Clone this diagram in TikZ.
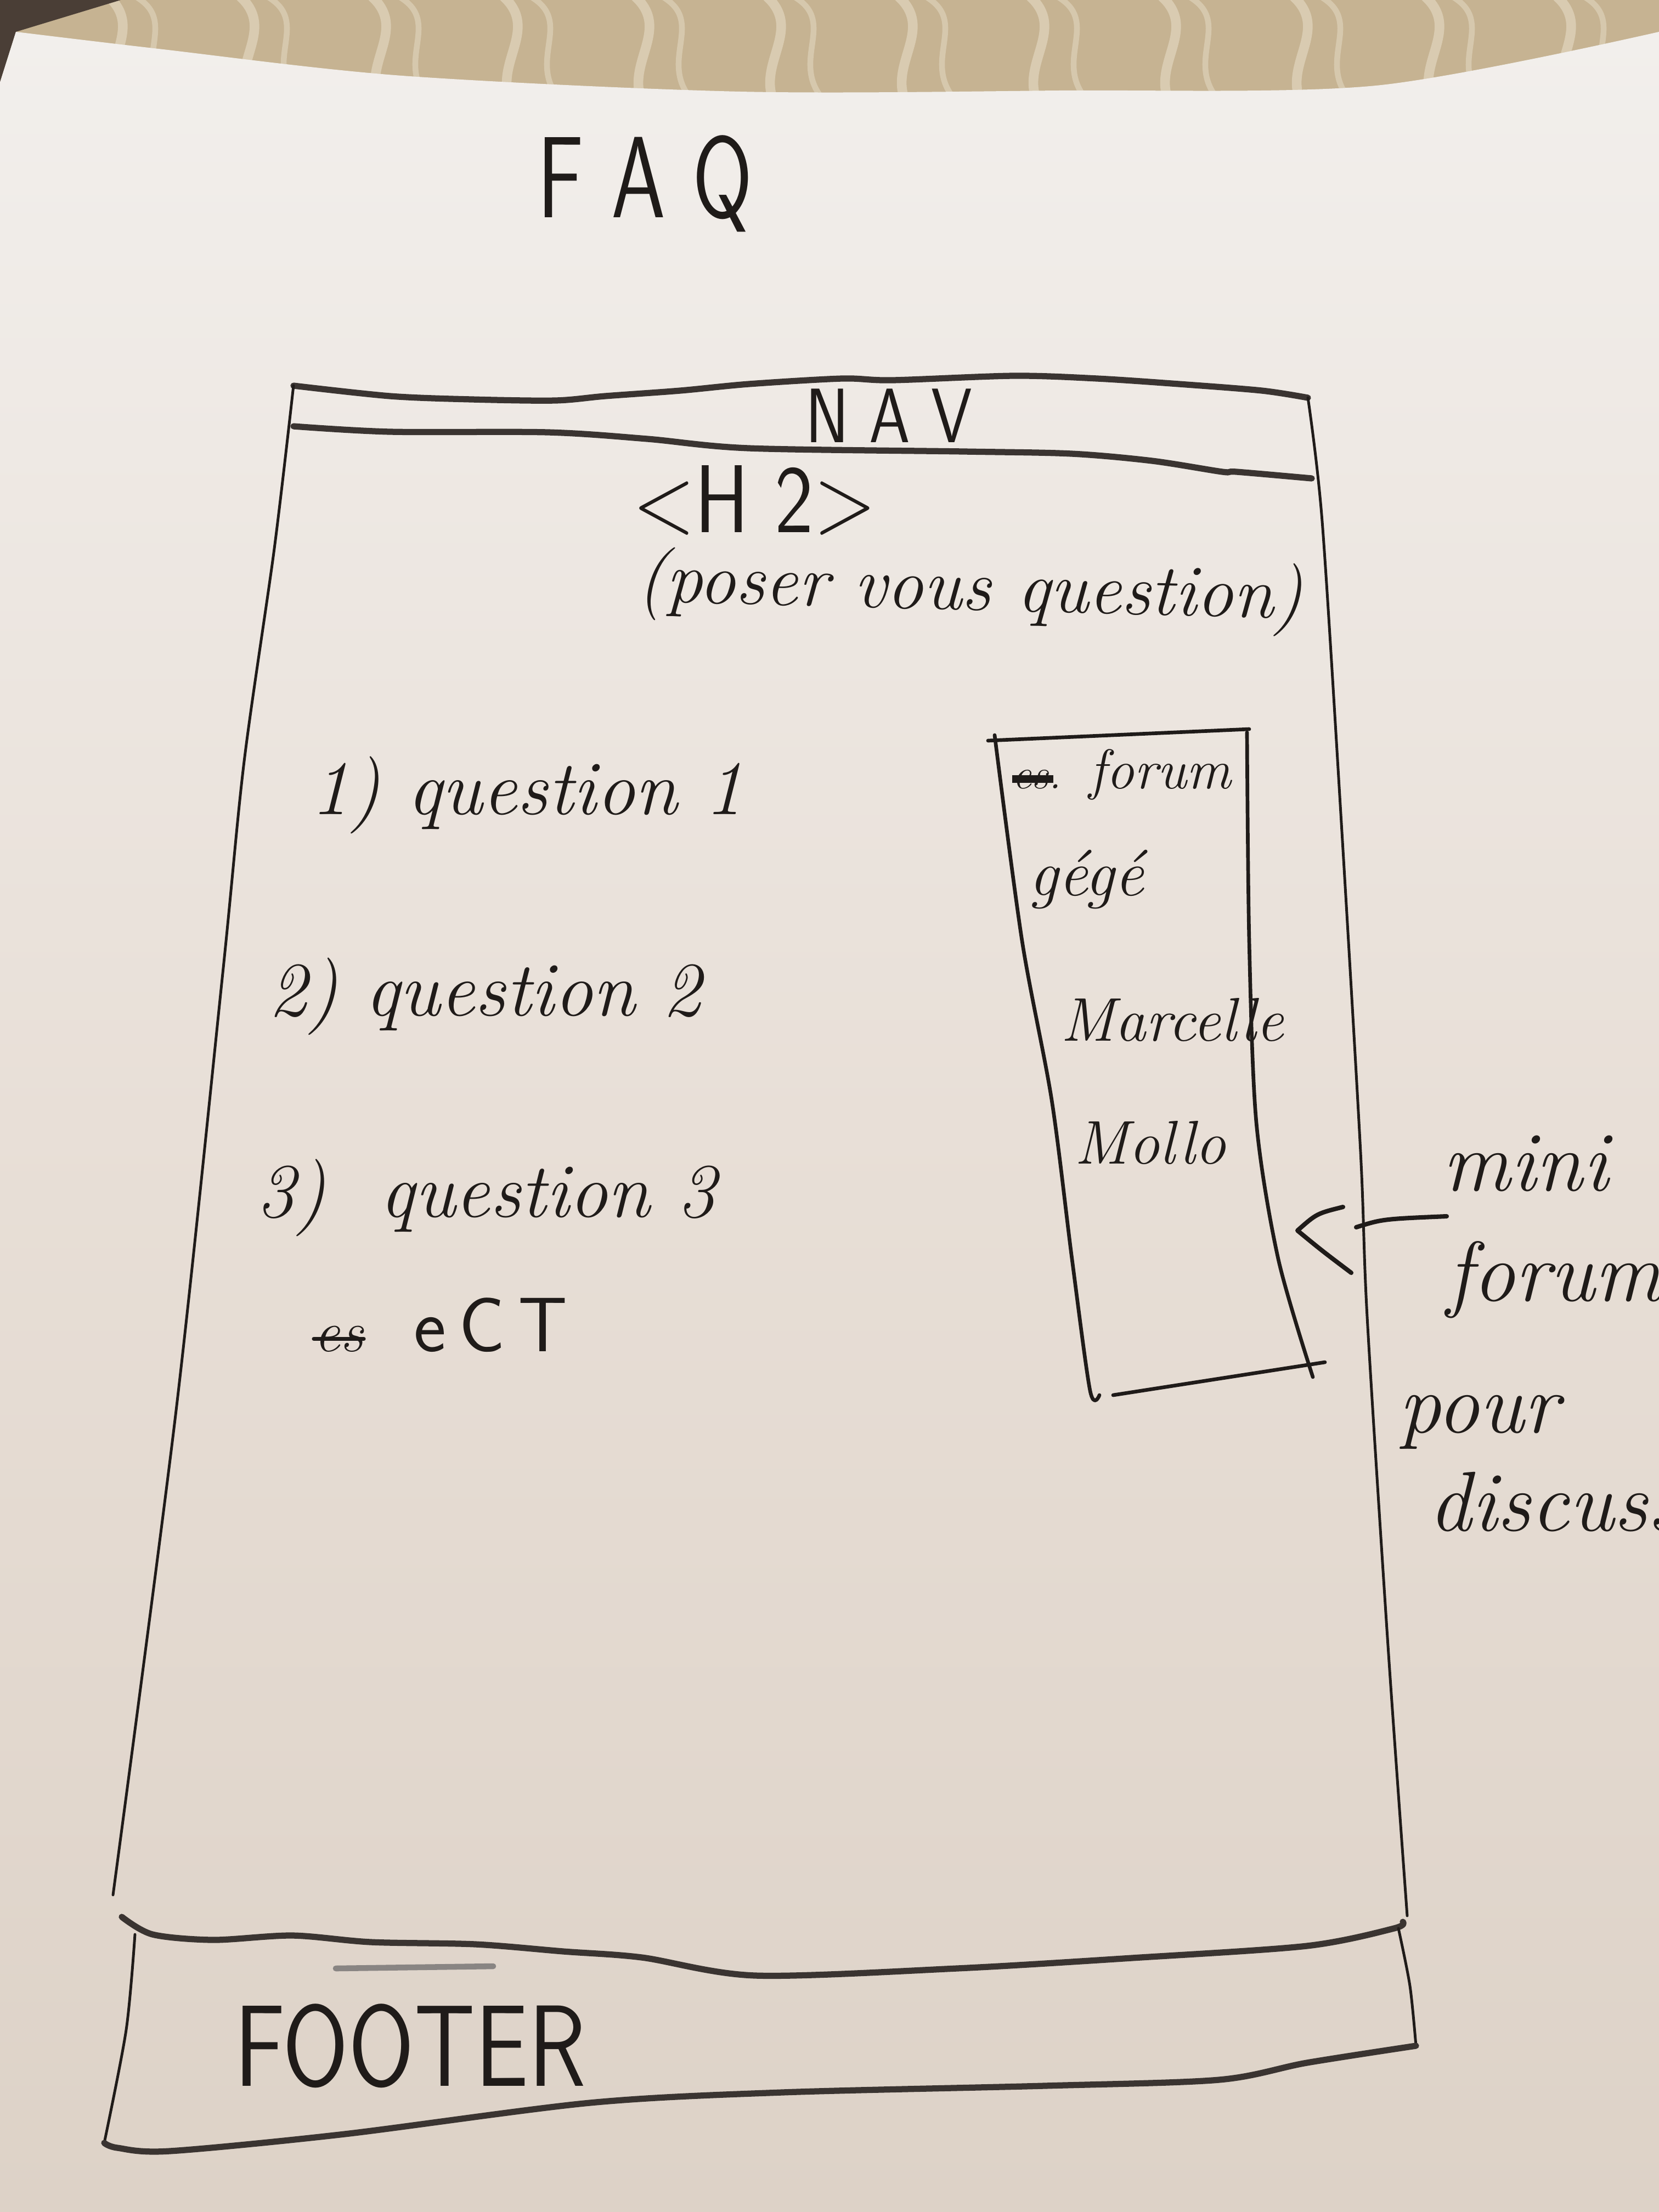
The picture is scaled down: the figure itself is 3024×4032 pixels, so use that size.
\documentclass[tikz,border=0pt]{standalone}
\usepackage{fontspec}
\definecolor{ink}{HTML}{1F1B19}
\definecolor{inksoft}{HTML}{3A3431}
\definecolor{paperhi}{HTML}{F2EFEC}
\definecolor{papermid}{HTML}{E8DFD7}
\definecolor{paperlo}{HTML}{DDD2C7}
\definecolor{lace}{HTML}{C6B392}
\definecolor{lacehi}{HTML}{E2D6BF}
\definecolor{corner}{HTML}{4A3E36}
\newcommand{\txtsize}[1]{\fontsize{#1}{#1}\selectfont}
\tikzset{
  thinpen/.style={draw=ink, line width=1.4pt, line cap=round, line join=round},
  thickpen/.style={draw=inksoft, line width=3.2pt, line cap=round, line join=round},
  boxpen/.style={draw=ink, line width=1.9pt, line cap=round, line join=round},
  caps/.style={text=ink, font=\sffamily, inner sep=0pt},
  hand/.style={text=ink, inner sep=0pt, anchor=base west},
}
\begin{document}
\begin{tikzpicture}[x=0.01cm, y=-0.01cm]
\useasboundingbox (0,0) rectangle (3024,4032);
\clip (0,0) rectangle (3024,4032);

% tablecloth behind the sheet
\fill[lace] (0,0) rectangle (3024,260);
\foreach \x in {180,420,660,900,1140,1380,1620,1860,2100,2340,2580,2820}{
  \draw[lacehi, line width=5pt, opacity=0.7] (\x,-20) .. controls (\x+120,60) and (\x-60,140) .. (\x+80,240);
  \draw[lacehi, line width=3pt, opacity=0.6] (\x+60,-10) .. controls (\x+160,40) and (\x+40,120) .. (\x+140,200);
}
\fill[corner] (0,0) -- (220,0) -- (29,58) -- (0,150) -- cycle;

% the sheet of paper
\shade[top color=paperhi, bottom color=paperlo, middle color=papermid]
  plot[smooth] coordinates {(29,58) (289,89) (733,138) (1350,167) (1929,165) (2508,156) (3024,58)}
  -- (3024,4032) -- (0,4032) -- (0,150) -- cycle;

% page title
\node[caps, font=\sffamily\txtsize{60pt}] (faq) at (1176,335) {\scalebox{0.75}[1]{F A Q}};

% navigation bar
\draw[thickpen] plot[smooth] coordinates {(535,703) (711,722) (860,728) (1012,730) (1103,722) (1240,712) (1365,700) (1535,690) (1626,693) (1848,685) (2000,690) (2149,700) (2300,712) (2384,725)};
\draw[thickpen] plot[smooth] coordinates {(535,777) (711,787) (999,788) (1180,800) (1365,817) (1757,823) (1953,827) (2100,840) (2228,860) (2254,860) (2391,872)};
\node[caps, font=\sffamily\txtsize{40pt}] (nav) at (1620,758) {\scalebox{0.85}[1]{N A V}};

% page frame sides
\draw[thinpen] plot[smooth] coordinates {(535,703) (500,1000) (445,1388) (406,1774) (321,2571) (206,3454)};
\draw[thinpen] plot[smooth] coordinates {(2384,725) (2410,950) (2445,1500) (2480,2100) (2492,2400) (2530,3000) (2565,3492)};

% heading
\node[caps, font=\sffamily\txtsize{50pt}] (h2) at (1375,912) {\scalebox{0.85}[1]{\textless H 2\textgreater}};
\node[hand, anchor=base, font=\itshape\txtsize{38pt}, rotate=-1.5] (sub) at (1767,1112) {(poser vous question)};

% question list
\node[hand, font=\itshape\txtsize{40pt}] (q1) at (566,1484) {1) question 1};
\node[hand, font=\itshape\txtsize{40pt}] (q2) at (489,1851) {2) question 2};
\node[hand, font=\itshape\txtsize{40pt}] (q3) at (467,2218) {3)\hspace{0.35em} question 3};
\node[hand, font=\itshape\txtsize{30pt}] (struck) at (572,2463) {es};
\draw[thinpen, line width=2pt] (struck.west) -- (struck.east);
\node[hand, font=\sffamily\txtsize{40pt}] (etc) at (754,2463) {e\,C\,T};

% mini forum box
\draw[boxpen] (1801,1350) -- (2277,1329);
\draw[boxpen] plot[smooth] coordinates {(1813,1340) (1863,1715) (1917,2005) (1954,2295) (1987,2535) (2004,2543)};
\draw[boxpen] plot[smooth] coordinates {(2273,1335) (2277,1715) (2290,2046) (2330,2295) (2393,2510)};
\draw[boxpen] (2029,2543) -- (2415,2483);
\node[hand, font=\itshape\txtsize{22pt}] (fstruck) at (1845,1437) {es.};
\draw[draw=ink, line width=4pt] (fstruck.west) -- ([xshift=-0.15cm]fstruck.east);
\node[hand, font=\itshape\txtsize{29pt}] (ftitle) at (1985,1437) {forum};
\node[hand, font=\itshape\txtsize{34pt}] (u1) at (1875,1632) {gégé};
\node[hand, font=\itshape\txtsize{32pt}] (u2) at (1933,1897) {Marcelle};
\node[hand, font=\itshape\txtsize{32pt}] (u3) at (1958,2121) {Mollo};

% side note pointing at the forum box
\node[hand, font=\itshape\txtsize{44pt}] (n1) at (2629,2170) {mini};
\node[hand, font=\itshape\txtsize{44pt}] (n2) at (2637,2371) {forum};
\node[hand, font=\itshape\txtsize{44pt}] (n3) at (2549,2611) {pour};
\node[hand, font=\itshape\txtsize{44pt}] (n4) at (2604,2790) {discussion};
\coordinate (tip) at (2365,2243);
\coordinate (ptr) at (2472,2237);
\coordinate (lineend) at (2637,2217);
\draw[boxpen, line width=2.3pt] (2448,2200) .. controls (2400,2212) .. (tip) .. controls (2410,2280) .. (2463,2320);
\draw[boxpen, line width=2.3pt] (ptr) .. controls (2520,2222) .. (lineend);

% footer
\draw[thickpen] plot[smooth] coordinates {(222,3494) (278,3526) (389,3536) (533,3528) (676,3540) (867,3544) (1027,3557) (1170,3568) (1377,3601) (1744,3588) (2063,3569) (2382,3547) (2541,3515) (2557,3503)};
\draw[thinpen] plot[smooth] coordinates {(246,3526) (230,3700) (190,3906)};
\draw[thinpen] plot[smooth] coordinates {(2549,3515) (2570,3620) (2581,3729)};
\draw[thickpen] plot[smooth] coordinates {(190,3906) (214,3915) (309,3921) (628,3890) (1075,3833) (1425,3814) (1903,3802) (2222,3791) (2382,3760) (2581,3729)};
\draw[draw=inksoft!60, line width=3pt, line cap=round] (612,3588) -- (899,3584);
\node[caps, font=\sffamily\txtsize{60pt}] (footer) at (748,3729) {\scalebox{0.82}[1]{FOOTER}};
\end{tikzpicture}
\end{document}
